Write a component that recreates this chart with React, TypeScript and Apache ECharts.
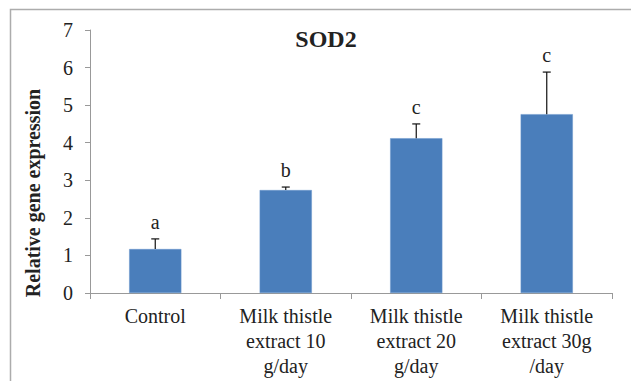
import React, { useEffect, useRef } from "react";
import * as echarts from "echarts";

const categories = [
  "Control",
  "Milk thistle\nextract 10\ng/day",
  "Milk thistle\nextract 20\ng/day",
  "Milk thistle\nextract 30g\n/day",
];
const means = [1.17, 2.74, 4.12, 4.76];
const errorTops = [1.44, 2.82, 4.5, 5.88];
const letters = ["a", "b", "c", "c"];
const yTicks = [0, 1, 2, 3, 4, 5, 6, 7];

const FONT = "'Liberation Serif', 'Times New Roman', serif";

export default function App() {
  const ref = useRef<HTMLDivElement>(null);
  useEffect(() => {
    document.body.style.margin = "0";
    const chart = echarts.init(ref.current!, null, { renderer: "svg" });
    const errData = categories.map((_, i) => [i, means[i], errorTops[i]]);
    chart.setOption({
      animation: false,
      backgroundColor: "#fff",
      textStyle: { fontFamily: FONT },
      title: {
        text: "SOD2",
        left: 321,
        top: 22,
        textAlign: "center",
        textStyle: { fontFamily: FONT, fontWeight: "bold", fontSize: 24, color: "#222" },
      },
      graphic: [
        {
          type: "rect",
          shape: { x: 10.5, y: 9.5, width: 700, height: 500 },
          style: { fill: "none", stroke: "#acacac", lineWidth: 1.5 },
          silent: true,
        },
        {
          type: "text",
          x: 33,
          y: 193,
          rotation: Math.PI / 2,
          style: {
            text: "Relative gene expression",
            fontFamily: FONT,
            fontWeight: "bold",
            fontSize: 20,
            fill: "#222",
            align: "center",
            verticalAlign: "middle",
          },
          silent: true,
        },
      ],
      grid: { left: 90, right: 19, top: 30, bottom: 88 },
      xAxis: {
        type: "category",
        data: categories,
        boundaryGap: true,
        axisLine: { lineStyle: { color: "#999", width: 1 } },
        axisTick: { show: true, alignWithLabel: false, length: 6, lineStyle: { color: "#999" } },
        axisLabel: {
          fontFamily: FONT,
          fontSize: 20,
          color: "#222",
          lineHeight: 25,
          margin: 10,
          interval: 0,
          verticalAlign: "top",
        },
      },
      yAxis: {
        type: "value",
        min: yTicks[0],
        max: yTicks[yTicks.length - 1],
        interval: 1,
        splitLine: { show: false },
        axisLine: { show: true, lineStyle: { color: "#999", width: 1 } },
        axisTick: { show: true, length: 5, lineStyle: { color: "#999" } },
        axisLabel: { fontFamily: FONT, fontSize: 20, color: "#222", margin: 17 },
      },
      series: [
        {
          type: "bar",
          data: means,
          barWidth: "40%",
          itemStyle: { color: "#4a7ebb", borderColor: "#6b97cc", borderWidth: 0.5 },
          z: 2,
        },
        {
          type: "custom",
          data: errData,
          z: 3,
          renderItem: (params: any, api: any) => {
            const i = api.value(0);
            const lo = api.coord([i, api.value(1)]);
            const hi = api.coord([i, api.value(2)]);
            const letter = letters[params.dataIndex];
            const cap = 4;
            return {
              type: "group",
              children: [
                {
                  type: "line",
                  shape: { x1: lo[0], y1: lo[1], x2: hi[0], y2: hi[1] },
                  style: { stroke: "#111", lineWidth: 1.2 },
                },
                {
                  type: "line",
                  shape: { x1: hi[0] - cap, y1: hi[1], x2: hi[0] + cap, y2: hi[1] },
                  style: { stroke: "#111", lineWidth: 1.2 },
                },
                {
                  type: "text",
                  x: hi[0],
                  y: hi[1] - 17,
                  style: {
                    text: letter,
                    fontFamily: FONT,
                    fontSize: 20,
                    fill: "#222",
                    align: "center",
                    verticalAlign: "middle",
                  },
                },
              ],
            };
          },
        },
      ],
    });
    return () => chart.dispose();
  }, []);
  return <div ref={ref} style={{ width: 631, height: 381 }} />;
}
